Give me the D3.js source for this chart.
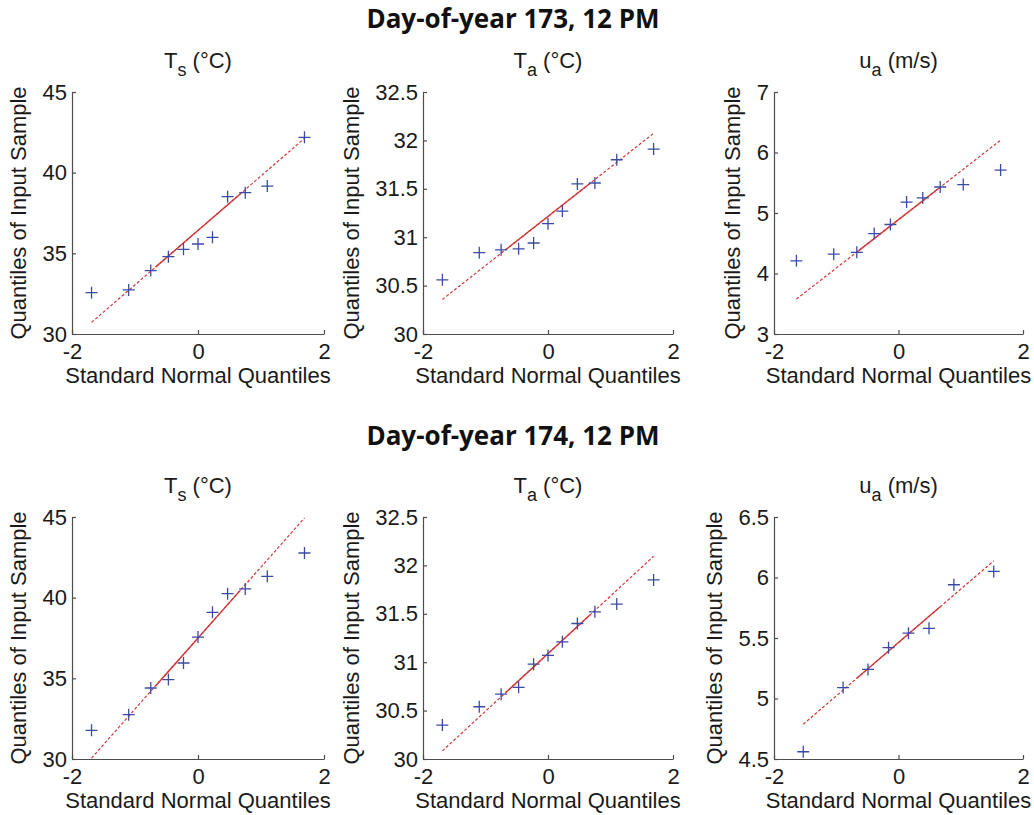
<!DOCTYPE html>
<html>
<head>
<meta charset="utf-8">
<script src="https://cdn.jsdelivr.net/npm/d3@7"></script>
<style>
  body { margin: 0; background: #fff; }
  svg { display: block; }
</style>
</head>
<body>
<svg id="svgQQ" width="1034" height="815"></svg>
<script>
// titles
const dayTitles = ["Day-of-year 173, 12 PM", "Day-of-year 174, 12 PM"];
const varNames = ["T", "T", "u"];
const varSubs = ["s", "a", "a"];
const varUnits = ["(°C)", "(°C)", "(m/s)"];

// standard normal quantiles (x)
const xQuant11 = [-1.69, -1.10, -0.75, -0.47, -0.23, 0, 0.23, 0.47, 0.75, 1.10, 1.69];
const xQuant10 = [-1.64, -1.04, -0.67, -0.39, -0.13, 0.13, 0.39, 0.67, 1.04, 1.64];
const xQuant8 = [-1.53, -0.89, -0.49, -0.16, 0.16, 0.49, 0.89, 1.53];

// sample quantiles (y)
const ts173 = [32.56, 32.73, 33.93, 34.79, 35.25, 35.58, 35.99, 38.51, 38.76, 39.17, 42.19];
const ta173 = [30.56, 30.84, 30.87, 30.88, 30.94, 31.14, 31.27, 31.55, 31.56, 31.80, 31.91];
const ua173 = [4.21, 4.32, 4.35, 4.66, 4.81, 5.18, 5.25, 5.43, 5.47, 5.71];
const ts174 = [31.78, 32.75, 34.40, 34.92, 35.95, 37.56, 39.09, 40.25, 40.54, 41.32, 42.77];
const ta174 = [30.35, 30.54, 30.67, 30.74, 30.98, 31.07, 31.21, 31.40, 31.52, 31.60, 31.85];
const ua174 = [4.56, 5.09, 5.24, 5.42, 5.54, 5.58, 5.94, 6.05];

// axis ticks
const xTicks = [-2, 0, 2];
const yTicksTs = [30, 35, 40, 45];
const yTicksTa = [30, 30.5, 31, 31.5, 32, 32.5];
const yTicksUa173 = [3, 4, 5, 6, 7];
const yTicksUa174 = [4.5, 5, 5.5, 6, 6.5];

const panels = [
  { row: 0, col: 0, x: xQuant11, y: ts173, ticks: yTicksTs },
  { row: 0, col: 1, x: xQuant11, y: ta173, ticks: yTicksTa },
  { row: 0, col: 2, x: xQuant10, y: ua173, ticks: yTicksUa173 },
  { row: 1, col: 0, x: xQuant11, y: ts174, ticks: yTicksTs },
  { row: 1, col: 1, x: xQuant11, y: ta174, ticks: yTicksTa },
  { row: 1, col: 2, x: xQuant8, y: ua174, ticks: yTicksUa174 },
];

const ctx = {
  left: [72, 423, 774],
  right: [324, 673, 1023],
  top: [92, 517],
  bottom: [334, 759],
  titleY: [28, 445],
  font: "'Liberation Sans', Arial, sans-serif",
  axisColor: "#4d4d4d",
  markColor: "#3b4ba3",
  lineColor: "#d43737",
};

const svg = d3.select("#svgQQ");

// matlab style percentile
function prctile(arr, p) {
  const s = arr.slice().sort((a, b) => a - b);
  const n = s.length;
  const pos = n * p / 100 + 0.5;
  if (pos <= 1) return s[0];
  if (pos >= n) return s[n - 1];
  const i = Math.floor(pos);
  return s[i - 1] + (pos - i) * (s[i] - s[i - 1]);
}

dayTitles.forEach((t, r) => {
  svg.append("text")
    .attr("x", 513)
    .attr("y", ctx.titleY[r])
    .attr("text-anchor", "middle")
    .style("font-family", "'Open Sans', sans-serif")
    .style("font-weight", 700)
    .style("font-size", "26px")
    .attr("fill", "#111")
    .text(t);
});

panels.forEach((p) => {
  const x0 = ctx.left[p.col], x1 = ctx.right[p.col];
  const y0 = ctx.top[p.row], y1 = ctx.bottom[p.row];
  const g = svg.append("g");

  const xscale = d3.scaleLinear().domain([-2, 2]).range([x0, x1]);
  const yscale = d3.scaleLinear()
    .domain([p.ticks[0], p.ticks[p.ticks.length - 1]])
    .range([y1, y0]);

  // axes
  g.append("g")
    .attr("transform", "translate(0," + y1 + ")")
    .call(d3.axisBottom(xscale).tickValues(xTicks).tickFormat((d) => d)
      .tickSizeInner(-4).tickSizeOuter(0).tickPadding(9));
  const yAxis = g.append("g")
    .attr("transform", "translate(" + x0 + ",0)")
    .call(d3.axisLeft(yscale).tickValues(p.ticks).tickFormat((d) => d)
      .tickSizeInner(-4).tickSizeOuter(0).tickPadding(5));

  g.selectAll(".domain, .tick line").attr("stroke", ctx.axisColor).attr("stroke-width", 1.2);
  g.selectAll(".tick text")
    .attr("fill", "#1a1a1a")
    .style("font-family", ctx.font)
    .style("font-size", "22px");

  // labels
  const tickW = d3.max(yAxis.selectAll(".tick text").nodes(), (n) => n.getBBox().width);
  g.append("text")
    .attr("transform", "translate(" + (x0 - 5 - tickW - 24) + "," + (y0 + y1) / 2 + ") rotate(-90)")
    .attr("dy", "0.35em")
    .attr("text-anchor", "middle")
    .style("font-family", ctx.font)
    .style("font-size", "22px")
    .attr("fill", "#1a1a1a")
    .text("Quantiles of Input Sample");
  g.append("text")
    .attr("x", (x0 + x1) / 2)
    .attr("y", y1 + 49)
    .attr("text-anchor", "middle")
    .style("font-family", ctx.font)
    .style("font-size", "22px")
    .attr("fill", "#1a1a1a")
    .text("Standard Normal Quantiles");

  const sub = g.append("text")
    .attr("x", (x0 + x1) / 2)
    .attr("y", y0 - 24)
    .attr("text-anchor", "middle")
    .style("font-family", ctx.font)
    .style("font-size", "22px")
    .attr("fill", "#1a1a1a");
  sub.append("tspan").text(varNames[p.col]);
  sub.append("tspan").attr("dy", 8).style("font-size", "18px").text(varSubs[p.col]);
  sub.append("tspan").attr("dy", -8).text(" " + varUnits[p.col]);

  // reference line through first and third quartiles
  const zq = 0.6745;
  const q1 = prctile(p.y, 25), q3 = prctile(p.y, 75);
  const slope = (q3 - q1) / (2 * zq);
  const fit = (x) => q1 + slope * (x + zq);
  const xmin = d3.min(p.x), xmax = d3.max(p.x);

  g.append("line")
    .attr("x1", xscale(xmin)).attr("y1", yscale(fit(xmin)))
    .attr("x2", xscale(xmax)).attr("y2", yscale(fit(xmax)))
    .attr("stroke", ctx.lineColor)
    .attr("stroke-width", 1.2)
    .attr("stroke-dasharray", "3,2");
  g.append("line")
    .attr("x1", xscale(-zq)).attr("y1", yscale(q1))
    .attr("x2", xscale(zq)).attr("y2", yscale(q3))
    .attr("stroke", ctx.lineColor)
    .attr("stroke-width", 1.4);

  // + markers
  const pts = p.x.map((xv, i) => ({ x: xv, y: p.y[i] }));
  g.append("g")
    .selectAll("path")
    .data(pts)
    .join("path")
    .attr("d", (d) => {
      const cx = xscale(d.x), cy = yscale(d.y);
      return "M" + (cx - 6) + "," + cy + "H" + (cx + 6) + "M" + cx + "," + (cy - 6) + "V" + (cy + 6);
    })
    .attr("stroke", ctx.markColor)
    .attr("stroke-width", 1.3)
    .attr("fill", "none");
});
</script>
</body>
</html>
